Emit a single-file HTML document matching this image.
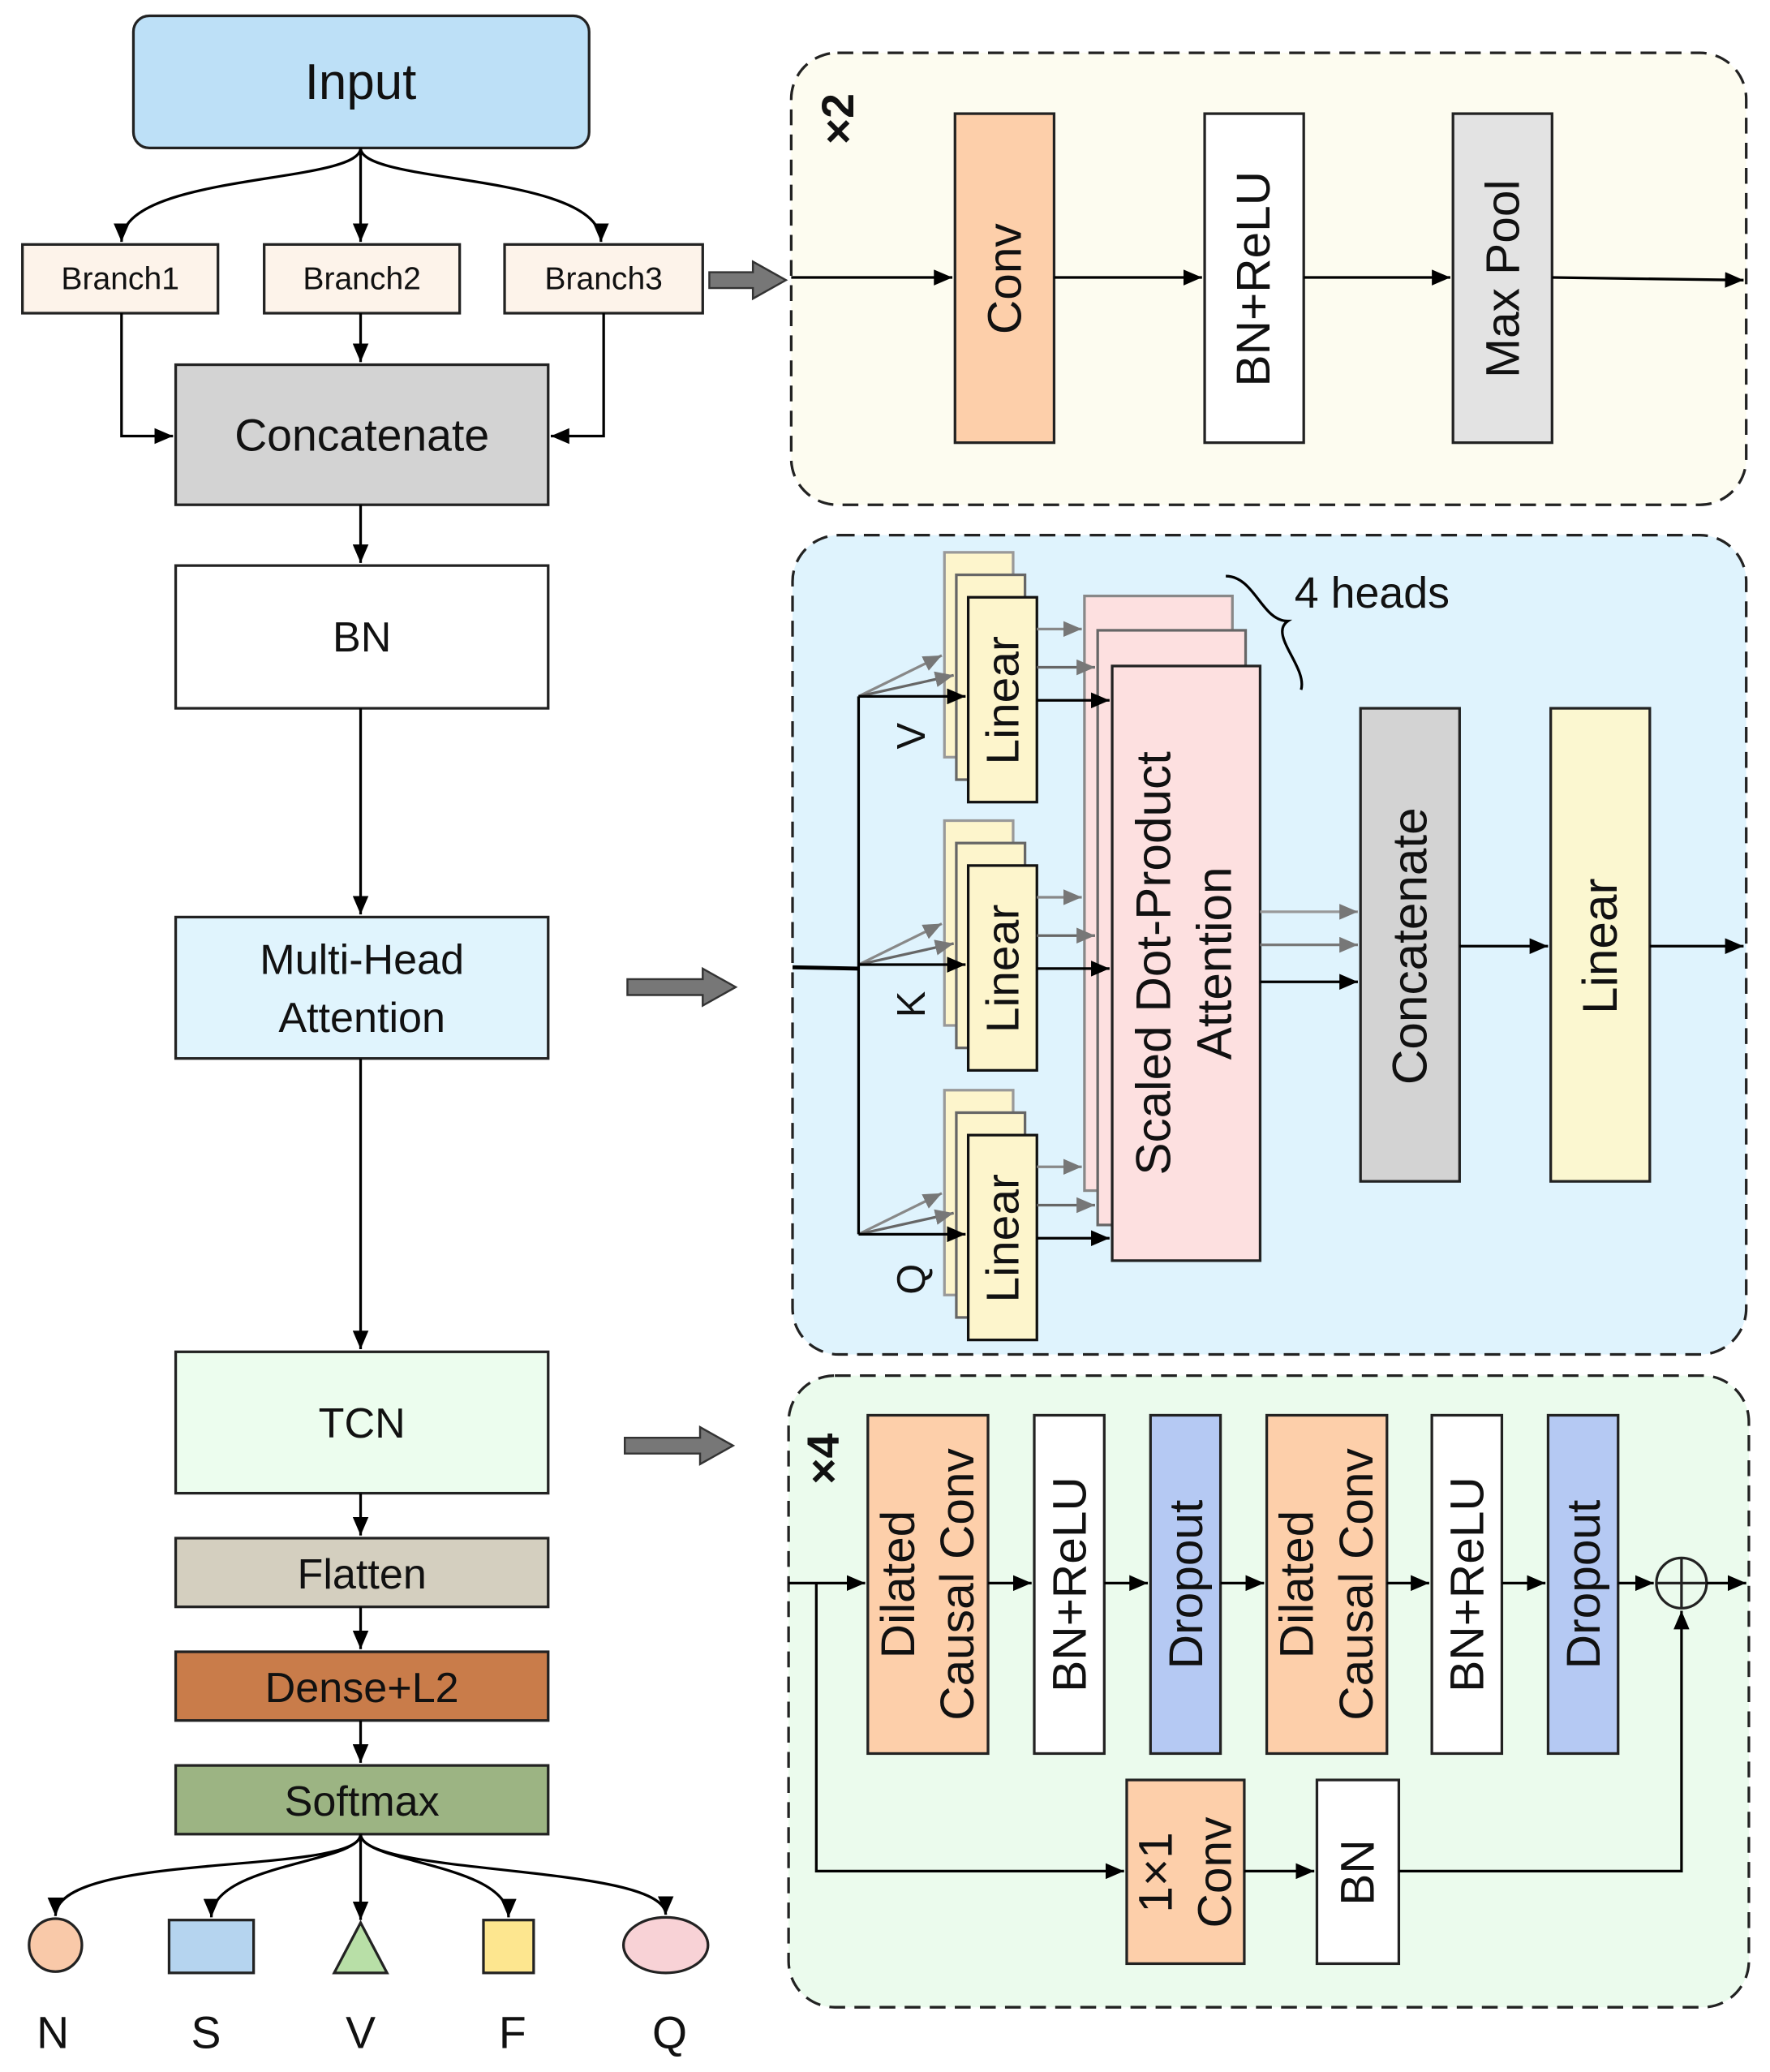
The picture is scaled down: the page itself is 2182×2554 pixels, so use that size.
<!DOCTYPE html>
<html><head><meta charset="utf-8"><style>html,body{margin:0;padding:0;background:#fff}svg{display:block}text{font-family:"Liberation Sans",sans-serif;fill:#111}</style></head><body>
<svg width="2182" height="2554" viewBox="0 0 1340 1568" preserveAspectRatio="none" xmlns="http://www.w3.org/2000/svg">
<defs>
<marker id="b" markerWidth="14" markerHeight="12" refX="14" refY="6" orient="auto" markerUnits="userSpaceOnUse"><path d="M0,0 L14,6 L0,12z" fill="#000"/></marker>
<marker id="g" markerWidth="14" markerHeight="12" refX="14" refY="6" orient="auto" markerUnits="userSpaceOnUse"><path d="M0,0 L14,6 L0,12z" fill="#777"/></marker>
</defs>
<g stroke="#222" stroke-width="2">
<rect x="101" y="12" width="345" height="100" rx="12" fill="#bde0f7"/>
<rect x="17" y="185" width="148" height="52" fill="#fdf3ea"/>
<rect x="200" y="185" width="148" height="52" fill="#fdf3ea"/>
<rect x="382" y="185" width="150" height="52" fill="#fdf3ea"/>
<rect x="133" y="276" width="282" height="106" fill="#d3d3d3"/>
<rect x="133" y="428" width="282" height="108" fill="#fff"/>
<rect x="133" y="694" width="282" height="107" fill="#e0f4fd"/>
<rect x="133" y="1023" width="282" height="107" fill="#ecfdee"/>
<rect x="133" y="1164" width="282" height="52" fill="#d4cfbf"/>
<rect x="133" y="1250" width="282" height="52" fill="#c97c4a"/>
<rect x="133" y="1336" width="282" height="52" fill="#9cb483"/>
<circle cx="42" cy="1472" r="20" fill="#f9c9a9"/>
<rect x="128" y="1453" width="64" height="40" fill="#b5d4ef"/>
<path d="M253,1493 L293,1493 L273,1455z" fill="#b8dfa7"/>
<rect x="366" y="1453" width="38" height="40" fill="#fde68f"/>
<ellipse cx="504" cy="1472" rx="32" ry="21" fill="#f8d2d6"/>
</g>
<g fill="none" stroke="#000" stroke-width="2">
<path d="M273,112 C273,140 92,130 92,183" marker-end="url(#b)"/>
<path d="M273,112 L273,183" marker-end="url(#b)"/>
<path d="M273,112 C273,140 455,130 455,183" marker-end="url(#b)"/>
<path d="M273,237 L273,274" marker-end="url(#b)"/>
<path d="M92,237 L92,330 L131,330" marker-end="url(#b)"/>
<path d="M457,237 L457,330 L417,330" marker-end="url(#b)"/>
<path d="M273,382 L273,426" marker-end="url(#b)"/>
<path d="M273,536 L273,692" marker-end="url(#b)"/>
<path d="M273,801 L273,1021" marker-end="url(#b)"/>
<path d="M273,1130 L273,1162" marker-end="url(#b)"/>
<path d="M273,1216 L273,1248" marker-end="url(#b)"/>
<path d="M273,1302 L273,1334" marker-end="url(#b)"/>
<path d="M273,1388 C273,1420 42,1400 42,1450" marker-end="url(#b)"/>
<path d="M273,1388 C273,1410 160,1410 160,1451" marker-end="url(#b)"/>
<path d="M273,1388 L273,1453" marker-end="url(#b)"/>
<path d="M273,1388 C273,1410 385,1410 385,1451" marker-end="url(#b)"/>
<path d="M273,1388 C273,1420 504,1410 504,1449" marker-end="url(#b)"/>
</g>
<g font-size="24" text-anchor="middle">
<text x="273" y="75" font-size="38">Input</text>
<text x="91" y="219">Branch1</text><text x="274" y="219">Branch2</text><text x="457" y="219">Branch3</text>
<text x="274" y="341" font-size="34">Concatenate</text>
<text x="274" y="493" font-size="32">BN</text>
<text x="274" y="737" font-size="32">Multi-Head</text><text x="274" y="781" font-size="32">Attention</text>
<text x="274" y="1088" font-size="32">TCN</text>
<text x="274" y="1202" font-size="32">Flatten</text>
<text x="274" y="1288" font-size="32">Dense+L2</text>
<text x="274" y="1374" font-size="32">Softmax</text>
<g font-size="34"><text x="40" y="1550">N</text><text x="156" y="1550">S</text><text x="273" y="1550">V</text><text x="388" y="1550">F</text><text x="507" y="1550">Q</text></g>
</g>
<g fill="#777" stroke="#333" stroke-width="1.5">
<path d="M537,206 L570,206 L570,198 L595,212 L570,226 L570,218 L537,218z"/>
<path d="M475,741 L532,741 L532,733 L557,747 L532,761 L532,753 L475,753z"/>
<path d="M473,1088 L530,1088 L530,1080 L555,1094 L530,1108 L530,1100 L473,1100z"/>
</g>
<!-- Panel 1 -->
<rect x="599" y="40" width="723" height="342" rx="35" fill="#fdfcf0" stroke="#222" stroke-width="2" stroke-dasharray="12,7"/>
<text transform="translate(646,90) rotate(-90)" font-size="34" font-weight="bold" text-anchor="middle">×2</text>
<g stroke="#222" stroke-width="2">
<rect x="723" y="86" width="75" height="249" fill="#fdcfaa"/>
<rect x="912" y="86" width="75" height="249" fill="#fff"/>
<rect x="1100" y="86" width="75" height="249" fill="#e3e3e3"/>
</g>
<g fill="none" stroke="#000" stroke-width="2">
<path d="M599,210 L721,210" marker-end="url(#b)"/><path d="M798,210 L910,210" marker-end="url(#b)"/>
<path d="M987,210 L1098,210" marker-end="url(#b)"/><path d="M1175,210 L1320,212" marker-end="url(#b)"/>
</g>
<g font-size="36" text-anchor="middle">
<text transform="translate(773,211) rotate(-90)">Conv</text>
<text transform="translate(961,211) rotate(-90)">BN+ReLU</text>
<text transform="translate(1150,211) rotate(-90)">Max Pool</text>
</g>
<!-- Panel 2 -->
<rect x="600" y="405" width="722" height="620" rx="35" fill="#dff3fd" stroke="#222" stroke-width="2" stroke-dasharray="12,7"/>
<g stroke-width="2">
<rect x="821" y="451" width="112" height="450" fill="#fde0e0" stroke="#888"/>
<rect x="831" y="477" width="112" height="450" fill="#fde0e0" stroke="#666"/>
<rect x="842" y="504" width="112" height="450" fill="#fde0e0" stroke="#222"/>
</g>
<text transform="translate(898,729) rotate(-90)" font-size="37" text-anchor="middle"><tspan x="0" y="-12">Scaled Dot-Product</tspan><tspan x="0" y="34">Attention</tspan></text>
<g id="lin">
<rect x="715" y="418" width="52" height="155" fill="#fdf5cc" stroke="#999" stroke-width="2"/>
<rect x="724" y="435" width="52" height="155" fill="#fdf5cc" stroke="#666" stroke-width="2"/>
<rect x="733" y="452" width="52" height="155" fill="#fdf5cc" stroke="#111" stroke-width="2"/>
<text transform="translate(771,530) rotate(-90)" font-size="35" text-anchor="middle">Linear</text>
<g fill="none" stroke-width="2">
<path d="M650,527 L713,496" stroke="#888" marker-end="url(#g)"/>
<path d="M650,527 L722,511" stroke="#666" marker-end="url(#g)"/>
<path d="M650,527 L731,527" stroke="#000" marker-end="url(#b)"/>
<path d="M785,476 L819,476" stroke="#888" marker-end="url(#g)"/>
<path d="M785,505 L829,505" stroke="#666" marker-end="url(#g)"/>
<path d="M785,530 L840,530" stroke="#000" marker-end="url(#b)"/>
</g>
</g>
<use href="#lin" y="203"/>
<use href="#lin" y="407"/>
<g font-size="30" text-anchor="middle">
<text transform="translate(700,557) rotate(-90)">V</text>
<text transform="translate(700,760) rotate(-90)">K</text>
<text transform="translate(700,968) rotate(-90)">Q</text>
</g>
<path d="M650,527 L650,934" fill="none" stroke="#000" stroke-width="2"/>
<path d="M600,732 L650,733" fill="none" stroke="#000" stroke-width="3"/>
<path d="M928,436 C950,436 955,470 975,470 C960,480 990,505 985,522" fill="none" stroke="#000" stroke-width="2"/>
<text x="980" y="460" font-size="33">4 heads</text>
<rect x="1030" y="536" width="75" height="358" fill="#d3d3d3" stroke="#222" stroke-width="2"/>
<rect x="1174" y="536" width="75" height="358" fill="#fbf7d0" stroke="#222" stroke-width="2"/>
<g font-size="37" text-anchor="middle">
<text transform="translate(1080,716) rotate(-90)">Concatenate</text>
<text transform="translate(1224,716) rotate(-90)">Linear</text>
</g>
<g fill="none" stroke-width="2">
<path d="M954,690 L1028,690" stroke="#999" marker-end="url(#g)"/>
<path d="M954,715 L1028,715" stroke="#777" marker-end="url(#g)"/>
<path d="M954,743 L1028,743" stroke="#000" marker-end="url(#b)"/>
<path d="M1105,716 L1172,716" stroke="#000" marker-end="url(#b)"/>
<path d="M1249,716 L1320,716" stroke="#000" marker-end="url(#b)"/>
</g>
<!-- Panel 3 -->
<rect x="597" y="1041" width="727" height="478" rx="35" fill="#ebfbed" stroke="#222" stroke-width="2" stroke-dasharray="12,7"/>
<text transform="translate(635,1104) rotate(-90)" font-size="34" font-weight="bold" text-anchor="middle">×4</text>
<g stroke="#222" stroke-width="2">
<rect x="657" y="1071" width="91" height="256" fill="#fdcfaa"/>
<rect x="783" y="1071" width="53" height="256" fill="#fff"/>
<rect x="871" y="1071" width="53" height="256" fill="#b5c9f3"/>
<rect x="959" y="1071" width="91" height="256" fill="#fdcfaa"/>
<rect x="1084" y="1071" width="53" height="256" fill="#fff"/>
<rect x="1172" y="1071" width="53" height="256" fill="#b5c9f3"/>
<rect x="853" y="1347" width="89" height="139" fill="#fdcfaa"/>
<rect x="997" y="1347" width="62" height="139" fill="#fff"/>
<circle cx="1273" cy="1198" r="19" fill="none"/>
<path d="M1254,1198 L1292,1198 M1273,1179 L1273,1217"/>
</g>
<g font-size="36" text-anchor="middle">
<text transform="translate(702,1199) rotate(-90)"><tspan x="0" y="-10">Dilated</tspan><tspan x="0" y="35">Causal Conv</tspan></text>
<text transform="translate(822,1199) rotate(-90)">BN+ReLU</text>
<text transform="translate(910,1199) rotate(-90)">Dropout</text>
<text transform="translate(1004,1199) rotate(-90)"><tspan x="0" y="-10">Dilated</tspan><tspan x="0" y="35">Causal Conv</tspan></text>
<text transform="translate(1123,1199) rotate(-90)">BN+ReLU</text>
<text transform="translate(1211,1199) rotate(-90)">Dropout</text>
<text transform="translate(897,1417) rotate(-90)"><tspan x="0" y="-10">1×1</tspan><tspan x="0" y="35">Conv</tspan></text>
<text transform="translate(1040,1417) rotate(-90)">BN</text>
</g>
<g fill="none" stroke="#000" stroke-width="2">
<path d="M597,1198 L655,1198" marker-end="url(#b)"/>
<path d="M748,1198 L781,1198" marker-end="url(#b)"/>
<path d="M836,1198 L869,1198" marker-end="url(#b)"/>
<path d="M924,1198 L957,1198" marker-end="url(#b)"/>
<path d="M1050,1198 L1082,1198" marker-end="url(#b)"/>
<path d="M1137,1198 L1170,1198" marker-end="url(#b)"/>
<path d="M1225,1198 L1252,1198" marker-end="url(#b)"/>
<path d="M1292,1198 L1322,1198" marker-end="url(#b)"/>
<path d="M618,1198 L618,1416 L851,1416" marker-end="url(#b)"/>
<path d="M942,1416 L995,1416" marker-end="url(#b)"/>
<path d="M1059,1416 L1273,1416 L1273,1219" marker-end="url(#b)"/>
</g>
</svg>
</body></html>
